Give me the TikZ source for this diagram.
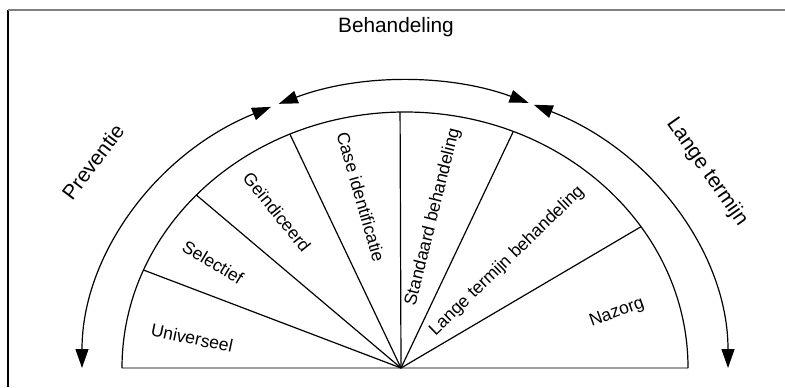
\documentclass[tikz,border=0pt]{standalone}
\usepackage{fontspec}
\setmainfont{Liberation Sans}
\usetikzlibrary{calc}
\usetikzlibrary{arrows.meta}

\tikzset{
  fanlabel/.style={font=\fontsize{8.8}{10}\selectfont, inner sep=0pt},
  phaselabel/.style={font=\fontsize{10.4}{12}\selectfont, inner sep=0pt},
  phasearc/.style={line width=0.6pt, {Triangle[length=9.5pt,width=6.5pt]}-{Triangle[length=9.5pt,width=6.5pt]}},
  spoke/.style={line width=0.6pt},
}

\begin{document}
\begin{tikzpicture}[x=0.5pt,y=0.5pt]
            \useasboundingbox (0,0) rectangle (785,387);

            % Frame, left and top edge
            \draw [line width=1pt] (8,0) -- (8,377);%
            \draw [line width=0.8pt, gray] (8,377) -- (785,377);%

            % Centre of the half ellipse and hub of the spokes
            \coordinate (centre) at (405,19);%
            \coordinate (hub) at (401,19);%

            % Points on the inner rim
            \coordinate (baseL) at ($(centre)+(180:283 and 256)$);%
            \coordinate (baseR) at ($(centre)+(0:283 and 256)$);%
            \coordinate (rimA) at ($(centre)+(157.5:283 and 256)$);%
            \coordinate (rimB) at ($(centre)+(137.5:283 and 256)$);%
            \coordinate (rimC) at ($(centre)+(114:283 and 256)$);%
            \coordinate (rimD) at ($(centre)+(91:283 and 256)$);%
            \coordinate (rimE) at ($(centre)+(67.5:283 and 256)$);%
            \coordinate (rimF) at ($(centre)+(33.5:283 and 256)$);%

            % Drawing base line
            \draw [line width=1.3pt, gray!75] (baseL) -- (baseR);%

            % Drawing inner rim
            \draw [spoke] (baseR) arc [start angle=0, end angle=180, x radius=283, y radius=256];%

            % Drawing spokes
            \draw [spoke] (hub) -- (rimA);%
            \draw [spoke] (hub) -- (rimB);%
            \draw [spoke] (hub) -- (rimC);%
            \draw [spoke] (hub) -- (rimD);%
            \draw [spoke] (hub) -- (rimE);%
            \draw [spoke] (hub) -- (rimF);%

            % Drawing outer arc Preventie
            \draw [phasearc] ($(centre)+(180:323 and 287)$) arc [start angle=180, end angle=114.5, x radius=323, y radius=287];%

            % Drawing outer arc Behandeling
            \draw [phasearc] ($(centre)+(113:323 and 287)$) arc [start angle=113, end angle=67.5, x radius=323, y radius=287];%

            % Drawing outer arc Lange termijn
            \draw [phasearc] ($(centre)+(66.5:323 and 287)$) arc [start angle=66.5, end angle=0, x radius=323, y radius=287];%

            % Phase labels
            \node (behandeling) [phaselabel] at (396,360) {Behandeling};%
            \node (preventie) [phaselabel, rotate=53] at (93,225) {Preventie};%
            \node (langetermijn) [phaselabel, rotate=-55] at (707,215) {Lange termijn};%

            % Segment labels
            \node (universeel) [fanlabel, rotate=-12] at (192,49) {Universeel};%
            \node (selectief) [fanlabel, rotate=-31] at (213,125) {Selectief};%
            \node (geindiceerd) [fanlabel, rotate=-51] at (277,175) {Geïndiceerd};%
            \node (caseid) [fanlabel, rotate=-74] at (361,190) {Case identificatie};%
            \node (standaard) [fanlabel, rotate=76] at (433,170) {Standaard behandeling};%
            \node (langebeh) [fanlabel, rotate=44] at (507,126) {Lange termijn behandeling};%
            \node (nazorg) [fanlabel, rotate=20] at (617,74) {Nazorg};%
\end{tikzpicture}
\end{document}
